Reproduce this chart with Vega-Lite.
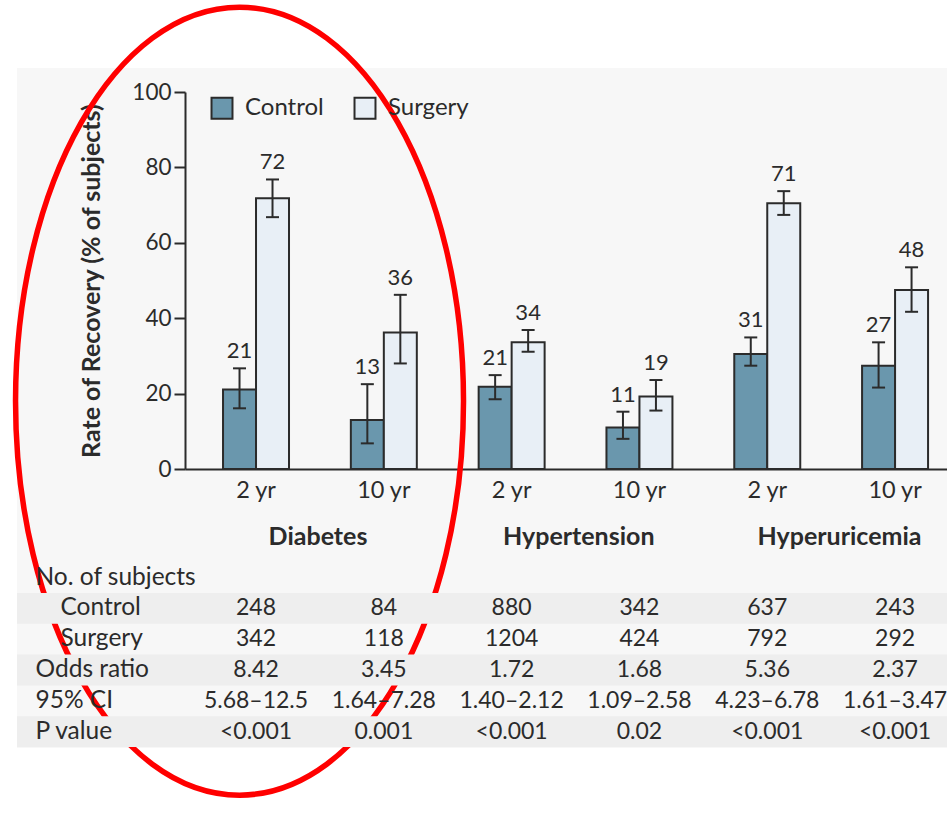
{
  "$schema": "https://vega.github.io/schema/vega-lite/v6.json",
  "width": 930,
  "height": 680,
  "autosize": {"type": "none"},
  "padding": {"left": 17, "top": 68, "right": 0, "bottom": 76},
  "background": "white",
  "datasets": {
    "bars": [
      {"key": "Diabetes|2 yr", "group": "Control", "rate": 21.1, "lo": 16.1, "hi": 26.7, "label": "21"},
      {"key": "Diabetes|2 yr", "group": "Surgery", "rate": 71.8, "lo": 66.8, "hi": 76.8, "label": "72"},
      {"key": "Diabetes|10 yr", "group": "Control", "rate": 13.0, "lo": 6.8, "hi": 22.5, "label": "13"},
      {"key": "Diabetes|10 yr", "group": "Surgery", "rate": 36.2, "lo": 28.0, "hi": 46.2, "label": "36"},
      {"key": "Hypertension|2 yr", "group": "Control", "rate": 21.8, "lo": 18.5, "hi": 24.9, "label": "21"},
      {"key": "Hypertension|2 yr", "group": "Surgery", "rate": 33.6, "lo": 31.1, "hi": 36.9, "label": "34"},
      {"key": "Hypertension|10 yr", "group": "Control", "rate": 11.0, "lo": 8.0, "hi": 15.2, "label": "11"},
      {"key": "Hypertension|10 yr", "group": "Surgery", "rate": 19.2, "lo": 15.5, "hi": 23.6, "label": "19"},
      {"key": "Hyperuricemia|2 yr", "group": "Control", "rate": 30.5, "lo": 27.4, "hi": 34.9, "label": "31"},
      {"key": "Hyperuricemia|2 yr", "group": "Surgery", "rate": 70.5, "lo": 67.4, "hi": 73.7, "label": "71"},
      {"key": "Hyperuricemia|10 yr", "group": "Control", "rate": 27.4, "lo": 21.6, "hi": 33.6, "label": "27"},
      {"key": "Hyperuricemia|10 yr", "group": "Surgery", "rate": 47.5, "lo": 41.7, "hi": 53.5, "label": "48"}
    ],
    "annotation": [
      {"key": "Diabetes|2 yr", "group": "Control", "cy": 18}
    ],
    "stripes": [
      {"row": "Control"}, {"row": "Odds ratio"}, {"row": "P value"}
    ],
    "diseases": [
      {"disease": "Diabetes", "row": "Disease"},
      {"disease": "Hypertension", "row": "Disease"},
      {"disease": "Hyperuricemia", "row": "Disease"}
    ],
    "table": [
      {"key": "Diabetes|2 yr", "row": "Control", "text": "248"},
      {"key": "Diabetes|10 yr", "row": "Control", "text": "84"},
      {"key": "Hypertension|2 yr", "row": "Control", "text": "880"},
      {"key": "Hypertension|10 yr", "row": "Control", "text": "342"},
      {"key": "Hyperuricemia|2 yr", "row": "Control", "text": "637"},
      {"key": "Hyperuricemia|10 yr", "row": "Control", "text": "243"},
      {"key": "Diabetes|2 yr", "row": "Surgery", "text": "342"},
      {"key": "Diabetes|10 yr", "row": "Surgery", "text": "118"},
      {"key": "Hypertension|2 yr", "row": "Surgery", "text": "1204"},
      {"key": "Hypertension|10 yr", "row": "Surgery", "text": "424"},
      {"key": "Hyperuricemia|2 yr", "row": "Surgery", "text": "792"},
      {"key": "Hyperuricemia|10 yr", "row": "Surgery", "text": "292"},
      {"key": "Diabetes|2 yr", "row": "Odds ratio", "text": "8.42"},
      {"key": "Diabetes|10 yr", "row": "Odds ratio", "text": "3.45"},
      {"key": "Hypertension|2 yr", "row": "Odds ratio", "text": "1.72"},
      {"key": "Hypertension|10 yr", "row": "Odds ratio", "text": "1.68"},
      {"key": "Hyperuricemia|2 yr", "row": "Odds ratio", "text": "5.36"},
      {"key": "Hyperuricemia|10 yr", "row": "Odds ratio", "text": "2.37"},
      {"key": "Diabetes|2 yr", "row": "95% CI", "text": "5.68–12.5"},
      {"key": "Diabetes|10 yr", "row": "95% CI", "text": "1.64–7.28"},
      {"key": "Hypertension|2 yr", "row": "95% CI", "text": "1.40–2.12"},
      {"key": "Hypertension|10 yr", "row": "95% CI", "text": "1.09–2.58"},
      {"key": "Hyperuricemia|2 yr", "row": "95% CI", "text": "4.23–6.78"},
      {"key": "Hyperuricemia|10 yr", "row": "95% CI", "text": "1.61–3.47"},
      {"key": "Diabetes|2 yr", "row": "P value", "text": "<0.001"},
      {"key": "Diabetes|10 yr", "row": "P value", "text": "0.001"},
      {"key": "Hypertension|2 yr", "row": "P value", "text": "<0.001"},
      {"key": "Hypertension|10 yr", "row": "P value", "text": "0.02"},
      {"key": "Hyperuricemia|2 yr", "row": "P value", "text": "<0.001"},
      {"key": "Hyperuricemia|10 yr", "row": "P value", "text": "<0.001"}
    ]
  },
  "layer": [
    {
      "data": {"name": "bars"},
      "encoding": {
        "x": {
          "field": "key", "type": "nominal",
          "scale": {
            "type": "band",
            "domain": ["Diabetes|2 yr", "Diabetes|10 yr", "Hypertension|2 yr", "Hypertension|10 yr", "Hyperuricemia|2 yr", "Hyperuricemia|10 yr"],
            "range": [168, 930], "paddingInner": 0.3, "paddingOuter": 0.131, "align": 0.785
          },
          "axis": {
            "orient": "bottom", "offset": -279, "title": null, "ticks": false,
            "domainColor": "#2b2b2b", "domainWidth": 2, "labelAngle": 0,
            "labelExpr": "split(datum.label, '|')[1]",
            "labelFontSize": 23.5, "labelPadding": 9, "labelColor": "#2b2b2b"
          }
        },
        "xOffset": {
          "field": "group", "type": "nominal",
          "scale": {"domain": ["Control", "Surgery"], "paddingInner": 0, "paddingOuter": 0.356}
        },
        "y": {
          "field": "rate", "type": "quantitative",
          "scale": {"domain": [0, 100], "range": [401, 24], "nice": false},
          "axis": {
            "orient": "left", "offset": -168, "title": "Rate of Recovery (% of subjects)",
            "values": [0, 20, 40, 60, 80, 100], "grid": false,
            "domainColor": "#2b2b2b", "domainWidth": 2, "tickColor": "#2b2b2b", "tickWidth": 2,
            "tickSize": 11, "labelPadding": 3, "labelFontSize": 22.5, "labelColor": "#2b2b2b",
            "titleFontSize": 25, "titleFontWeight": "bold", "titleColor": "#2b2b2b",
            "titleX": -94, "titleBaseline": "middle"
          }
        }
      },
      "layer": [
        {
          "mark": {"type": "bar", "stroke": "#2b2b2b", "strokeWidth": 2},
          "encoding": {
            "color": {
              "field": "group", "type": "nominal",
              "scale": {"domain": ["Control", "Surgery"], "range": ["#6a97ad", "#e8eff6"]},
              "legend": {
                "title": null, "orient": "none", "legendX": 193, "legendY": 28,
                "direction": "horizontal", "symbolType": "square", "symbolSize": 440,
                "symbolStrokeColor": "#2b2b2b", "symbolStrokeWidth": 2, "symbolOpacity": 1,
                "labelFontSize": 24, "labelColor": "#2b2b2b", "labelOffset": 11,
                "columnPadding": 26, "padding": 0
              }
            }
          }
        },
        {
          "mark": {"type": "rule", "stroke": "#2b2b2b", "strokeWidth": 2},
          "encoding": {"y": {"field": "lo", "type": "quantitative"}, "y2": {"field": "hi"}}
        },
        {
          "mark": {"type": "tick", "orient": "horizontal", "size": 13, "thickness": 2, "color": "#2b2b2b", "opacity": 1},
          "encoding": {"y": {"field": "lo", "type": "quantitative"}}
        },
        {
          "mark": {"type": "tick", "orient": "horizontal", "size": 13, "thickness": 2, "color": "#2b2b2b", "opacity": 1},
          "encoding": {"y": {"field": "hi", "type": "quantitative"}}
        },
        {
          "mark": {"type": "text", "baseline": "alphabetic", "dy": -10, "fontSize": 22, "color": "#2b2b2b"},
          "encoding": {"y": {"field": "hi", "type": "quantitative"}, "text": {"field": "label"}}
        },
        {
          "data": {"name": "annotation"},
          "mark": {
            "type": "point", "filled": false, "stroke": "#ff0000", "strokeWidth": 5.5, "opacity": 1,
            "shape": "M -0.5685 0 A 0.5685 1 0 1 1 0.5685 0 A 0.5685 1 0 1 1 -0.5685 0 Z",
            "size": 620944
          },
          "encoding": {"y": {"field": "cy", "type": "quantitative"}}
        }
      ]
    },
    {
      "layer": [
        {
          "data": {"name": "stripes"},
          "mark": {"type": "rect", "color": "#eeeeee"},
          "encoding": {
            "y": {
              "field": "row", "type": "nominal",
              "scale": {
                "domain": ["Disease", "No. of subjects", "Control", "Surgery", "Odds ratio", "95% CI", "P value"],
                "range": [463.4, 679], "paddingInner": 0, "paddingOuter": 0
              },
              "axis": {
                "orient": "left", "title": null, "domain": false, "ticks": false, "tickSize": 0, "grid": false,
                "labelAlign": "left", "labelFontSize": 24.5, "labelColor": "#2b2b2b",
                "labelPadding": {"condition": {"test": "datum.value === 'Control' || datum.value === 'Surgery'", "value": -43}, "value": -18},
                "labelExpr": "datum.value === 'Disease' ? '' : datum.label"
              }
            }
          }
        },
        {
          "data": {"name": "table"},
          "mark": {"type": "text", "baseline": "middle", "fontSize": 23, "color": "#2b2b2b"},
          "encoding": {
            "x": {
              "field": "key", "type": "nominal",
              "scale": {
                "type": "band",
                "domain": ["Diabetes|2 yr", "Diabetes|10 yr", "Hypertension|2 yr", "Hypertension|10 yr", "Hyperuricemia|2 yr", "Hyperuricemia|10 yr"],
                "range": [168, 930], "paddingInner": 0.3, "paddingOuter": 0.131, "align": 0.785
              },
              "axis": null
            },
            "y": {"field": "row", "type": "nominal"},
            "text": {"field": "text"}
          }
        },
        {
          "data": {"name": "diseases"},
          "mark": {"type": "text", "baseline": "middle", "dy": -10, "fontSize": 25, "fontWeight": "bold", "color": "#2b2b2b"},
          "encoding": {
            "x": {
              "field": "disease", "type": "nominal",
              "scale": {"type": "point", "domain": ["Diabetes", "Hypertension", "Hyperuricemia"], "range": [301, 822.5], "padding": 0},
              "axis": null
            },
            "y": {"field": "row", "type": "nominal"},
            "text": {"field": "disease"}
          }
        }
      ],
      "resolve": {"scale": {"x": "independent"}, "axis": {"x": "independent"}}
    }
  ],
  "resolve": {
    "scale": {"x": "independent", "y": "independent"},
    "axis": {"x": "independent", "y": "independent"}
  },
  "config": {
    "font": "Lato",
    "view": {"fill": "#f7f7f7", "stroke": null},
    "axis": {"labelFont": "Lato", "titleFont": "Lato"},
    "legend": {"labelFont": "Lato"},
    "text": {"font": "Lato"}
  }
}
